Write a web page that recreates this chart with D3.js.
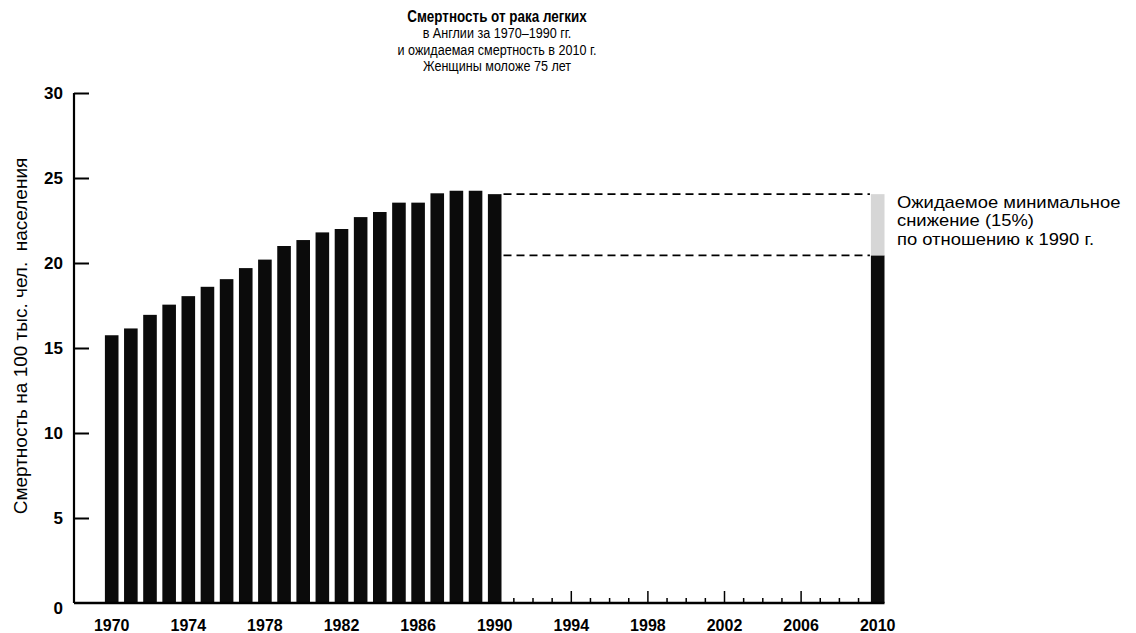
<!DOCTYPE html>
<html><head><meta charset="utf-8">
<script src="https://cdn.jsdelivr.net/npm/d3@7"></script>
<style>
html,body{margin:0;padding:0;background:#fff;}
svg{display:block;}
</style></head>
<body>
<svg id="chart" width="1136" height="633"></svg>
<script>
// ---- data ----
const years = [1970,1971,1972,1973,1974,1975,1976,1977,1978,1979,1980,1981,1982,1983,1984,1985,1986,1987,1988,1989,1990];
const mortality = [15.75,16.15,16.95,17.55,18.05,18.6,19.05,19.7,20.2,21.0,21.35,21.8,22.0,22.7,23.0,23.55,23.55,24.1,24.25,24.25,24.05];
const projectedYear = 2010;
const projectedValue = 24.05;       // 1990 level
const projectedReduced = 20.45;     // expected minimal (15%) reduction
const yTicks = [0,5,10,15,20,25,30];
const xLabelYears = [1970,1974,1978,1982,1986,1990,1994,1998,2002,2006,2010];
const minorTickYears = d3.range(1991, 2010);
const titleLines = ["Смертность от рака легких","в Англии за 1970–1990 гг.","и ожидаемая смертность в 2010 г.","Женщины моложе 75 лет"];
const noteLines = ["Ожидаемое минимальное","снижение (15%)","по отношению к 1990 г."];
const yTitle = "Смертность на 100 тыс. чел.  населения";

// ---- drawing ----
const svg = d3.select("#chart");
const x = d3.scaleLinear().domain([1970, 2010]).range([111.7, 877.7]);
const y = d3.scaleLinear().domain([0, 30]).range([603, 93]);
const bw = 13.6;
const axisX = 74;
const font = "'Liberation Sans', Arial, Helvetica, sans-serif";
const narrow = "'Liberation Sans Narrow', 'Arial Narrow', 'Liberation Sans', sans-serif";

// title
const tcx = 497;
svg.append("g").attr("transform",`translate(${tcx},0) scale(0.84,1)`)
  .selectAll("text").data(titleLines).join("text")
  .attr("x", 0).attr("y", (d,i) => 22 + i*16.5)
  .attr("text-anchor","middle")
  .style("font-family", narrow)
  .style("font-size",(d,i)=> i===0 ? "16px":"15px")
  .style("font-weight",(d,i)=> i===0 ? "bold":"normal")
  .text(d=>d);

// bars
svg.append("g").selectAll("rect").data(years).join("rect")
  .attr("x", (d)=> x(d)-bw/2)
  .attr("y", (d,i)=> y(mortality[i]))
  .attr("width", bw)
  .attr("height", (d,i)=> y(0)-y(mortality[i]))
  .attr("fill","#0b0b0b");

// 2010 bar
svg.append("rect").attr("x", x(projectedYear)-bw/2).attr("y", y(projectedReduced))
  .attr("width", bw).attr("height", y(0)-y(projectedReduced)).attr("fill","#0b0b0b");
svg.append("rect").attr("x", x(projectedYear)-bw/2).attr("y", y(projectedValue))
  .attr("width", bw).attr("height", y(projectedReduced)-y(projectedValue)).attr("fill","#d6d6d6");

// dashed lines
[projectedValue, projectedReduced].forEach(v=>{
  svg.append("line").attr("x1", x(1990)+bw/2+2).attr("x2", x(projectedYear)-bw/2-1)
    .attr("y1", y(v)).attr("y2", y(v))
    .attr("stroke","#000").attr("stroke-width",1.6).attr("stroke-dasharray","8,5");
});

// y axis
const yAxis = d3.axisLeft(y).tickValues(yTicks).tickSize(-15).tickPadding(11).tickFormat(d3.format("d"));
const gy = svg.append("g").attr("transform",`translate(${axisX},0)`).call(yAxis);
gy.select(".domain").attr("stroke","#000").attr("stroke-width",2.2).attr("d",`M0,${y(30)}V${y(0)}`);
gy.selectAll(".tick line").attr("stroke","#000").attr("stroke-width",2).attr("x1",0).attr("x2",15);
gy.selectAll(".tick").filter(d=>d===0).select("line").remove();
gy.selectAll(".tick text").style("font-family",font).style("font-size","17px").style("font-weight","bold").attr("fill","#000")
  .attr("x",-11);
gy.selectAll(".tick").filter(d=>d===0).select("text").attr("dy","0.62em");

// x axis baseline
svg.append("line").attr("x1",axisX).attr("x2",x(projectedYear)+bw/2).attr("y1",y(0)).attr("y2",y(0))
  .attr("stroke","#000").attr("stroke-width",2.5);

// minor ticks
svg.append("g").selectAll("line").data(minorTickYears).join("line")
  .attr("x1",d=>x(d)).attr("x2",d=>x(d))
  .attr("y1",y(0)).attr("y2",d=> (d-1970)%4===0 ? y(0)-12 : y(0)-5)
  .attr("stroke","#000").attr("stroke-width",1.5);

// x labels
svg.append("g").selectAll("text").data(xLabelYears).join("text")
  .attr("x",d=>x(d)).attr("y",631).attr("text-anchor","middle")
  .style("font-family",font).style("font-size","16px").style("font-weight","bold")
  .text(d=>d);

// y title
svg.append("text").attr("transform",`translate(27,336) rotate(-90)`)
  .attr("text-anchor","middle")
  .style("font-family",font).style("font-size","19px")
  .style("white-space","pre").attr("xml:space","preserve")
  .text(yTitle);

// annotation
svg.append("g").attr("transform","translate(897,0) scale(1.15,1)")
  .selectAll("text").data(noteLines).join("text")
  .attr("x",0).attr("y",(d,i)=>208 + i*18.5)
  .style("font-family",font).style("font-size","16px")
  .text(d=>d);
</script>
</body></html>
